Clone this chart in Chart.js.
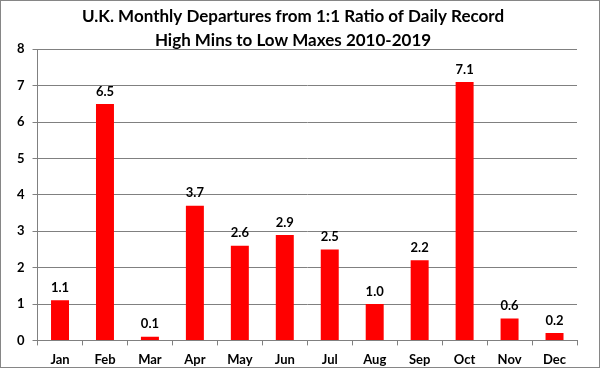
<!DOCTYPE html>
<html>
<head>
<meta charset="utf-8">
<script src="https://cdn.jsdelivr.net/npm/chart.js@4.4.1/dist/chart.umd.min.js"></script>
<style>
  html, body { margin: 0; padding: 0; background: #fff; }
  .wrap { width: 600px; height: 368px; box-sizing: border-box; border: 1px solid #868686; }
  canvas { display: block; }
</style>
</head>
<body>
<div class="wrap"><canvas id="c" width="598" height="366"></canvas></div>
<script>
const months = ['Jan', 'Feb', 'Mar', 'Apr', 'May', 'Jun', 'Jul', 'Aug', 'Sep', 'Oct', 'Nov', 'Dec'];
const departures = [1.1, 6.5, 0.1, 3.7, 2.6, 2.9, 2.5, 1.0, 2.2, 7.1, 0.6, 0.2];
const titleLines = ['U.K. Monthly Departures from 1:1 Ratio of Daily Record', 'High Mins to Low Maxes 2010-2019'];

const fontFamily = 'Lato, "Open Sans", sans-serif';

// draws the value above each bar
const valueLabels = {
  id: 'valueLabels',
  afterDatasetsDraw(chart) {
    const ctx = chart.ctx;
    const meta = chart.getDatasetMeta(0);
    ctx.save();
    ctx.font = 'bold 13px ' + fontFamily;
    ctx.fillStyle = '#000';
    ctx.textAlign = 'center';
    ctx.textBaseline = 'bottom';
    meta.data.forEach((bar, i) => {
      ctx.fillText(departures[i].toFixed(1), bar.x, bar.y - 6);
    });
    ctx.restore();
  }
};

new Chart(document.getElementById('c'), {
  type: 'bar',
  data: {
    labels: months,
    datasets: [{
      data: departures,
      backgroundColor: '#ff0000',
      barPercentage: 0.8,
      categoryPercentage: 0.5
    }]
  },
  options: {
    responsive: false,
    animation: false,
    layout: { padding: { left: 8, right: 22, top: 0, bottom: -8 } },
    plugins: {
      legend: { display: false },
      tooltip: { enabled: false },
      title: {
        display: true,
        text: titleLines,
        color: '#000',
        font: { family: fontFamily, size: 17, weight: 'bold', lineHeight: 1.45 },
        padding: { top: 3, bottom: -4 }
      }
    },
    scales: {
      x: {
        grid: { drawOnChartArea: false, color: '#808080', tickLength: 5 },
        border: { color: '#808080' },
        ticks: { color: '#000', font: { family: fontFamily, size: 13, weight: 'bold' }, padding: 7 }
      },
      y: {
        min: 0,
        max: 8,
        ticks: { stepSize: 1, color: '#000', font: { family: fontFamily, size: 13, weight: 'bold' }, padding: 8 },
        grid: { color: '#808080', tickLength: 5 },
        border: { color: '#808080' }
      }
    }
  },
  plugins: [valueLabels]
});
</script>
</body>
</html>
